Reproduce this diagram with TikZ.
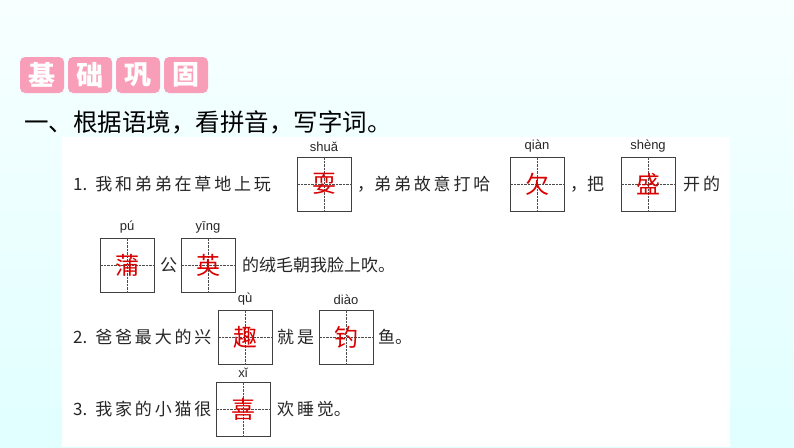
\documentclass[tikz,border=0pt]{standalone}
\usepackage{fontspec}
\newfontfamily\cjk{Noto Sans CJK SC}
\setmainfont{Liberation Sans}
\usetikzlibrary{positioning}
\tikzset{
  gridbox/.style={draw=black!75, line width=0.8pt, minimum size=54pt, inner sep=0pt},
  answer/.style={text=red!85!black, font=\cjk\fontsize{24}{24}\selectfont},
  pinyin/.style={font=\fontsize{13}{13}\selectfont, text=black!85},
  words/.style={font=\cjk\fontsize{17}{17}\selectfont, text=black!85, anchor=west, inner sep=0pt},
  badge/.style={fill=magenta!30!pink!80, rounded corners=5pt, minimum width=44pt, minimum height=36pt,
    text=white, font=\cjk\bfseries\fontsize{27}{27}\selectfont}
}
% one answer box with its pinyin
\newcommand{\charbox}[4]{%
  \node[gridbox] (#1) at (#2) {};
  \draw[densely dotted, black!70] (#1.north) -- (#1.south) (#1.west) -- (#1.east);
  \node[answer] at (#1) {#3};
  \node[pinyin, above=1pt of #1] (p-#1) {#4};
}
\begin{document}
\begin{tikzpicture}[x=1pt, y=-1pt]
  \shade[top color=cyan!3, bottom color=cyan!12] (0,0) rectangle (794,447);
  \useasboundingbox (0,0) rectangle (794,447);
  \fill[white] (62,137) rectangle (730,447);
  % header
  \foreach[count=\i] \c in {基,础,巩,固}
    \node[badge] (b\i) at ({20+22+(\i-1)*48},75) {\c};
  \node[anchor=west, inner sep=0pt, font=\cjk\fontsize{24.5}{24.5}\selectfont] (title) at (24,122) {一、根据语境，看拼音，写字词。};
  % line 1
  \node[words] (t1) at (73,184) {1.\, 我\,和\,弟\,弟\,在\,草\,地\,上\,玩};
  \charbox{shua}{324,184}{耍}{shuǎ}
  \node[words] (t2) at (357,184) {，弟\,弟\,故\,意\,打\,哈};
  \charbox{qian}{537,184}{欠}{qiàn}
  \node[words] (t3) at (570,184) {，把};
  \charbox{sheng}{648,184}{盛}{shèng}
  \node[words] (t4) at (683,184) {开\,的};
  % line 2
  \charbox{pu}{127,265}{蒲}{pú}
  \node[words] (t5) at (160,265) {公};
  \charbox{ying}{208,265}{英}{yīng}
  \node[words] (t6) at (242,265) {的绒毛朝我脸上吹。};
  % line 3
  \node[words] (t7) at (73,337) {2.\, 爸\,爸\,最\,大\,的\,兴};
  \charbox{qu}{245,337}{趣}{qù}
  \node[words] (t8) at (277,337) {就\,是};
  \charbox{diao}{346,337}{钓}{diào}
  \node[words] (t9) at (378,337) {鱼。};
  % line 4
  \node[words] (t10) at (73,409) {3.\, 我\,家\,的\,小\,猫\,很};
  \charbox{xi}{243,409}{喜}{xǐ}
  \node[words] (t11) at (277,409) {欢\,睡\,觉。};
\end{tikzpicture}
\end{document}
